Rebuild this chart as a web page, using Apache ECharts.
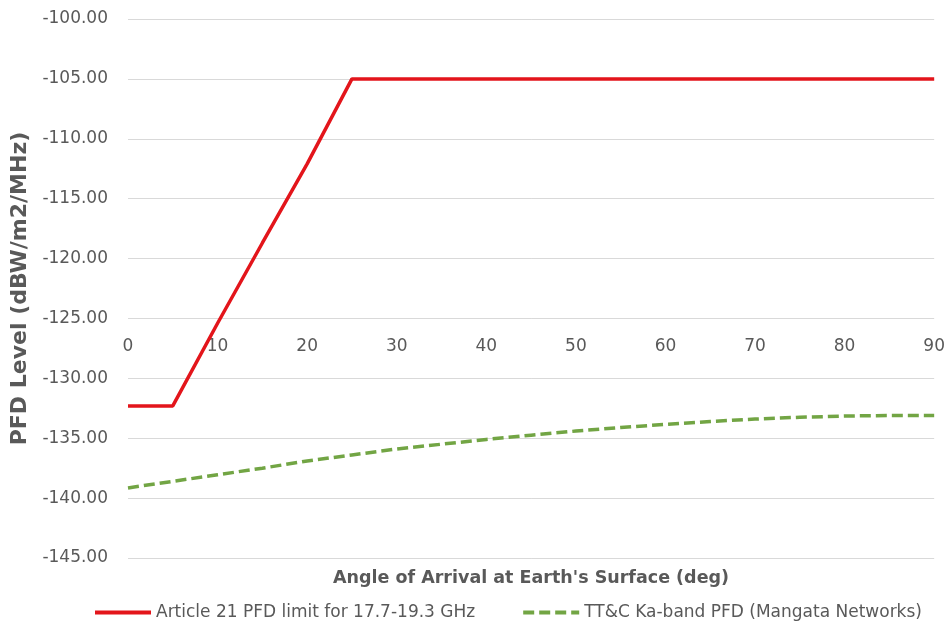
<!DOCTYPE html>
<html>
<head>
<meta charset="utf-8">
<script src="https://cdn.jsdelivr.net/npm/echarts@6/dist/echarts.min.js"></script>
<style>
html,body{margin:0;padding:0;background:#fff;}
#chart{width:948px;height:629px;}
</style>
</head>
<body>
<div id="chart"></div>
<script>
const angles = [0, 5, 10, 15, 20, 25, 30, 35, 40, 45, 50, 55, 60, 65, 70, 75, 80, 85, 90];
const article21Limit = [-132.3, -132.3, -125.4, -118.7, -112.1, -105, -105, -105, -105, -105, -105, -105, -105, -105, -105, -105, -105, -105, -105];
const ttcKaBand = [-139.15, -138.6, -138.05, -137.5, -136.9, -136.4, -135.9, -135.5, -135.1, -134.75, -134.4, -134.1, -133.85, -133.6, -133.4, -133.25, -133.15, -133.1, -133.1];
const seriesNames = ['Article 21 PFD limit for 17.7-19.3 GHz', 'TT&C Ka-band PFD (Mangata Networks)'];
const xTitle = "Angle of Arrival at Earth's Surface (deg)";
const yTitle = 'PFD Level (dBW/m2/MHz)';

const FONT = 'DejaVu Sans';
const GREY = '#595959';
const chart = echarts.init(document.getElementById('chart'), null, {renderer: 'canvas'});
const pairs = (xs, ys) => xs.map((x, i) => [x, ys[i]]);

chart.setOption({
  backgroundColor: '#ffffff',
  animation: false,
  grid: {left: 128, right: 13, top: 19, bottom: 71, containLabel: false},
  xAxis: {
    type: 'value', min: 0, max: 90, interval: 10,
    offset: -222,
    axisLine: {show: false}, axisTick: {show: false}, splitLine: {show: false},
    axisLabel: {color: GREY, fontFamily: FONT, fontSize: 17, margin: 2}
  },
  yAxis: {
    type: 'value', min: -145, max: -100, interval: 5,
    name: yTitle, nameLocation: 'middle', nameGap: 97, nameRotate: 90,
    nameTextStyle: {color: GREY, fontFamily: FONT, fontSize: 22, fontWeight: 'bold'},
    axisLine: {show: false}, axisTick: {show: false},
    splitLine: {lineStyle: {color: '#D9D9D9', width: 1}},
    axisLabel: {color: GREY, fontFamily: FONT, fontSize: 17, margin: 20,
      formatter: v => v.toFixed(2)}
  },
  graphic: [{
    type: 'text', x: 531, y: 578,
    style: {text: xTitle, fill: GREY, font: 'bold 17.5px "DejaVu Sans"', textAlign: 'center', textVerticalAlign: 'middle'}
  }],
  legend: {
    show: true, orient: 'horizontal',
    left: 88, top: 599, width: 860, itemWidth: 56, itemHeight: 14, itemGap: 46,
    textStyle: {color: GREY, fontFamily: FONT, fontSize: 17},
    itemStyle: {opacity: 0},
    lineStyle: {width: 4},
    data: [seriesNames[0], seriesNames[1]]
  },
  series: [
    {
      name: seriesNames[0], type: 'line', data: pairs(angles, article21Limit),
      symbol: 'none', color: '#E3151B',
      lineStyle: {color: '#E3151B', width: 3.5}
    },
    {
      name: seriesNames[1], type: 'line', data: pairs(angles, ttcKaBand),
      symbol: 'none', color: '#72A544',
      lineStyle: {color: '#72A544', width: 3.5, type: [11, 5]}
    }
  ]
});
</script>
</body>
</html>
